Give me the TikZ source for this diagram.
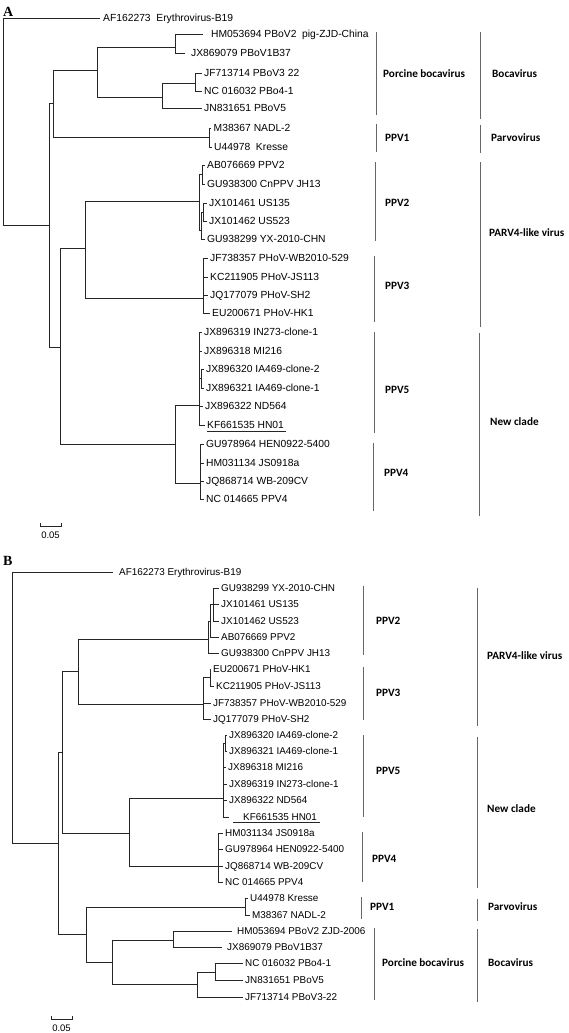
\documentclass[tikz,border=0pt]{standalone}
\usepackage{fontspec}
\setmainfont{Liberation Sans}
\newfontfamily\grpfont{Carlito}
\newfontfamily\panelfont{Liberation Serif}
\begin{document}
\begin{tikzpicture}[x=1pt,y=-1pt,
  br/.style={line width=0.7pt, black!85},
  brk/.style={line width=1pt, black!60},
  ul/.style={line width=0.7pt, black!85},
  leaf/.style={anchor=west, inner xsep=2.5pt, inner ysep=0pt, font=\fontsize{10.3}{11}\selectfont, text height=7.4pt, text depth=0pt},
  leafb/.style={leaf, font=\fontsize{9.9}{10}\selectfont, text height=7.1pt},
  grp/.style={anchor=west, inner sep=0pt, font=\grpfont\bfseries\fontsize{11.2}{12}\selectfont, text height=7.5pt, text depth=0pt},
  panel/.style={anchor=west, inner sep=0pt, font=\panelfont\bfseries\fontsize{14}{14}\selectfont, text height=9pt, text depth=0pt},
  sc/.style={inner sep=0pt, font=\fontsize{9.5}{10}\selectfont}]
\useasboundingbox[fill=white] (0,0) rectangle (568,1033);

% ================= Tree A =================
\node[panel] (pA) at (3,12) {A};
\coordinate (rootA) at (3,121);
\coordinate (a1) at (49,225);
\coordinate (a2) at (53,103);
\coordinate (a3) at (97,70);
\coordinate (a4) at (175,47);
\coordinate (a5) at (162,97);
\coordinate (a6) at (195,83);
\coordinate (a9) at (209,137);
\coordinate (a10) at (60,347);
\coordinate (a11) at (85,248);
\coordinate (a12) at (199,201);
\coordinate (a13) at (202,174.5);
\coordinate (a14) at (201,230);
\coordinate (a14b) at (203,212);
\coordinate (a15) at (203,298);
\coordinate (a16) at (175,444);
\coordinate (a17) at (199,405);
\coordinate (a17b) at (201,378);
\coordinate (a18) at (200,483);

\node[leaf, inner xsep=3pt] (oA) at (100,18) {AF162273\ \ Erythrovirus-B19};
\node[leaf, inner xsep=8pt] (la1) at (203,34) {HM053694 PBoV2\ \ pig-ZJD-China};
\node[leaf, inner xsep=6pt] (la2) at (185,53) {JX869079 PBoV1B37};
\node[leaf] (la3) at (201.5,73) {JF713714 PBoV3 22};
\node[leaf] (la4) at (201.5,91) {NC 016032 PBo4-1};
\node[leaf] (la5) at (201.5,108) {JN831651 PBoV5};
\node[leaf] (la6) at (211,128) {M38367 NADL-2};
\node[leaf] (la7) at (211.5,147) {U44978\ \ Kresse};
\node[leaf] (la8) at (204.5,165) {AB076669 PPV2};
\node[leaf] (la9) at (204.5,184) {GU938300 CnPPV JH13};
\node[leaf] (la10) at (206.5,203) {JX101461 US135};
\node[leaf] (la11) at (206.5,221) {JX101462 US523};
\node[leaf] (la12) at (204.5,239) {GU938299 YX-2010-CHN};
\node[leaf] (la13) at (207.5,258) {JF738357 PHoV-WB2010-529};
\node[leaf] (la14) at (207.5,277) {KC211905 PHoV-JS113};
\node[leaf] (la15) at (207.5,295) {JQ177079 PHoV-SH2};
\node[leaf] (la16) at (209.5,313) {EU200671 PHoV-HK1};
\node[leaf] (la17) at (201.5,332) {JX896319 IN273-clone-1};
\node[leaf] (la18) at (201.5,351) {JX896318 MI216};
\node[leaf] (la19) at (203.5,369) {JX896320 IA469-clone-2};
\node[leaf] (la20) at (203.5,388) {JX896321 IA469-clone-1};
\node[leaf] (la21) at (202.5,406) {JX896322 ND564};
\node[leaf] (la22) at (204.5,425) {KF661535 HN01};
\node[leaf] (la23) at (203.5,444) {GU978964 HEN0922-5400};
\node[leaf] (la24) at (203.5,463) {HM031134 JS0918a};
\node[leaf] (la25) at (203.5,481) {JQ868714 WB-209CV};
\node[leaf] (la26) at (203.5,499) {NC 014665 PPV4};

\draw[br] (rootA) |- (oA.west);
\draw[br] (rootA) |- (a1);
\draw[br] (a1) |- (a2);
\draw[br] (a1) |- (a10);
\draw[br] (a2) |- (a3);
\draw[br] (a2) |- (a9);
\draw[br] (a3) |- (a4);
\draw[br] (a3) |- (a5);
\draw[br] (a4) |- (la1.west);
\draw[br] (a4) |- (la2.west);
\draw[br] (a5) |- (a6);
\draw[br] (a5) |- (la5.west);
\draw[br] (a6) |- (la3.west);
\draw[br] (a6) |- (la4.west);
\draw[br] (a9) |- (la6.west);
\draw[br] (a9) |- (la7.west);
\draw[br] (a10) |- (a11);
\draw[br] (a10) |- (a16);
\draw[br] (a11) |- (a12);
\draw[br] (a11) |- (a15);
\draw[br] (a12) |- (a13);
\draw[br] (a12) |- (a14);
\draw[br] (a13) |- (la8.west);
\draw[br] (a13) |- (la9.west);
\draw[br] (a14) |- (a14b);
\draw[br] (a14) |- (la12.west);
\draw[br] (a14b) |- (la10.west);
\draw[br] (a14b) |- (la11.west);
\foreach \c in {la13,la14,la15,la16} \draw[br] (a15) |- (\c.west);
\draw[br] (a16) |- (a17);
\draw[br] (a16) |- (a18);
\foreach \c in {la17,la18,la21,la22} \draw[br] (a17) |- (\c.west);
\draw[br] (a17) |- (a17b);
\draw[br] (a17b) |- (la19.west);
\draw[br] (a17b) |- (la20.west);
\foreach \c in {la23,la24,la25,la26} \draw[br] (a18) |- (\c.west);
\draw[ul] (207,431) -- (286,431);

% brackets A
\draw[brk] (376,32) -- (376,115);
\draw[brk] (480,32) -- (480,119);
\draw[brk] (376,124) -- (376,152);
\draw[brk] (480,125) -- (480,153);
\draw[brk] (375,162) -- (375,241);
\draw[brk] (480,162) -- (480,327);
\draw[brk] (374,256) -- (374,322);
\draw[brk] (374,332) -- (374,433);
\draw[brk] (479,333) -- (479,516);
\draw[brk] (373,443) -- (373,511);
\node[grp] (gA1) at (383,74) {Porcine bocavirus};
\node[grp] (gA2) at (492,74) {Bocavirus};
\node[grp] (gA3) at (385,138) {PPV1};
\node[grp] (gA4) at (491,138) {Parvovirus};
\node[grp] (gA5) at (385,203) {PPV2};
\node[grp] (gA6) at (489,233) {PARV4-like virus};
\node[grp] (gA7) at (385,286) {PPV3};
\node[grp] (gA8) at (385,390) {PPV5};
\node[grp] (gA9) at (490,422) {New clade};
\node[grp] (gA10) at (384,473) {PPV4};

% scale A
\draw[br] (40,522.5) -- (40,526) -- (61,526) -- (61,522.5);
\node[sc] (sA) at (50.5,535) {0.05};

% ================= Tree B =================
\node[panel] (pB) at (3,561) {B};
\coordinate (rootB) at (12,708);
\coordinate (b1) at (58,843);
\coordinate (b2) at (62,752);
\coordinate (b3) at (78,671);
\coordinate (b4) at (208,639);
\coordinate (b4a) at (210,621);
\coordinate (b4b) at (213,604);
\coordinate (b6) at (203,704);
\coordinate (b6a) at (210,677);
\coordinate (b7) at (129,833);
\coordinate (b8) at (223,798);
\coordinate (b8a) at (225,743);
\coordinate (b8c) at (218,866);
\coordinate (b9) at (86,934);
\coordinate (b10) at (245,907);
\coordinate (b11) at (112,962);
\coordinate (b12) at (173,940);
\coordinate (b13) at (197,984);
\coordinate (b14) at (215,972);

\node[leafb, inner xsep=6pt] (ob) at (113,572) {AF162273 Erythrovirus-B19};
\node[leafb] (lb1) at (218.5,588) {GU938299 YX-2010-CHN};
\node[leafb] (lb2) at (218.5,604) {JX101461 US135};
\node[leafb] (lb3) at (218.5,621) {JX101462 US523};
\node[leafb] (lb4) at (218.5,637) {AB076669 PPV2};
\node[leafb] (lb5) at (218.5,653) {GU938300 CnPPV JH13};
\node[leafb] (lb6) at (210.5,669) {EU200671 PHoV-HK1};
\node[leafb] (lb7) at (213.5,686) {KC211905 PHoV-JS113};
\node[leafb] (lb8) at (210.5,703) {JF738357 PHoV-WB2010-529};
\node[leafb] (lb9) at (210.5,719) {JQ177079 PHoV-SH2};
\node[leafb] (lb10) at (226.5,735) {JX896320 IA469-clone-2};
\node[leafb] (lb11) at (226.5,751) {JX896321 IA469-clone-1};
\node[leafb] (lb12) at (225.5,767) {JX896318 MI216};
\node[leafb] (lb13) at (226.5,784) {JX896319 IN273-clone-1};
\node[leafb] (lb14) at (226.5,800) {JX896322 ND564};
\node[leafb, inner xsep=14pt] (lb15) at (229,817) {KF661535 HN01};
\node[leafb] (lb16) at (222.5,833) {HM031134 JS0918a};
\node[leafb] (lb17) at (222.5,849) {GU978964 HEN0922-5400};
\node[leafb] (lb18) at (222.5,866) {JQ868714 WB-209CV};
\node[leafb] (lb19) at (222.5,882) {NC 014665 PPV4};
\node[leafb] (lb20) at (247.5,898) {U44978 Kresse};
\node[leafb] (lb21) at (249.5,915) {M38367 NADL-2};
\node[leafb, inner xsep=5pt] (lb22) at (232,931) {HM053694 PBoV2 ZJD-2006};
\node[leafb, inner xsep=5pt] (lb23) at (222,947) {JX869079 PBoV1B37};
\node[leafb] (lb24) at (242.5,963) {NC 016032 PBo4-1};
\node[leafb] (lb25) at (242.5,980) {JN831651 PBoV5};
\node[leafb] (lb26) at (242.5,997) {JF713714 PBoV3-22};

\draw[br] (rootB) |- (ob.west);
\draw[br] (rootB) |- (b1);
\draw[br] (b1) |- (b2);
\draw[br] (b1) |- (b9);
\draw[br] (b2) |- (b3);
\draw[br] (b2) |- (b7);
\draw[br] (b3) |- (b4);
\draw[br] (b3) |- (b6);
\draw[br] (b4) |- (b4a);
\draw[br] (b4) |- (lb5.west);
\draw[br] (b4a) |- (b4b);
\draw[br] (b4a) |- (lb4.west);
\foreach \c in {lb1,lb2,lb3} \draw[br] (b4b) |- (\c.west);
\draw[br] (b6) |- (b6a);
\draw[br] (b6) |- (lb8.west);
\draw[br] (b6) |- (lb9.west);
\draw[br] (b6a) |- (lb6.west);
\draw[br] (b6a) |- (lb7.west);
\draw[br] (b7) |- (b8);
\draw[br] (b7) |- (b8c);
\draw[br] (b8) |- (b8a);
\foreach \c in {lb12,lb13,lb14,lb15} \draw[br] (b8) |- (\c.west);
\draw[br] (b8a) |- (lb10.west);
\draw[br] (b8a) |- (lb11.west);
\foreach \c in {lb16,lb17,lb18,lb19} \draw[br] (b8c) |- (\c.west);
\draw[br] (b9) |- (b10);
\draw[br] (b9) |- (b11);
\draw[br] (b10) |- (lb20.west);
\draw[br] (b10) |- (lb21.west);
\draw[br] (b11) |- (b12);
\draw[br] (b11) |- (b13);
\draw[br] (b12) |- (lb22.west);
\draw[br] (b12) |- (lb23.west);
\draw[br] (b13) |- (b14);
\draw[br] (b13) |- (lb26.west);
\draw[br] (b14) |- (lb24.west);
\draw[br] (b14) |- (lb25.west);
\draw[ul] (233,822) -- (320,822);

% brackets B
\draw[brk] (363,586) -- (363,655);
\draw[brk] (363,667) -- (363,720);
\draw[brk] (477,588) -- (477,726);
\draw[brk] (363,735) -- (363,817);
\draw[brk] (477,737) -- (477,888);
\draw[brk] (362,832) -- (362,882);
\draw[brk] (361,897) -- (361,919);
\draw[brk] (477,899) -- (477,921);
\draw[brk] (374,928) -- (374,1000);
\draw[brk] (477,929) -- (477,1002);
\node[grp] (gB1) at (376,621) {PPV2};
\node[grp] (gB2) at (376,693) {PPV3};
\node[grp] (gB3) at (487,656) {PARV4-like virus};
\node[grp] (gB4) at (376,771) {PPV5};
\node[grp] (gB5) at (487,809) {New clade};
\node[grp] (gB6) at (372,859) {PPV4};
\node[grp] (gB7) at (370,907) {PPV1};
\node[grp] (gB8) at (488,907) {Parvovirus};
\node[grp] (gB9) at (382,963) {Porcine bocavirus};
\node[grp] (gB10) at (488,963) {Bocavirus};

% scale B
\draw[br] (51,1015.5) -- (51,1019) -- (72,1019) -- (72,1015.5);
\node[sc] (sB) at (61.5,1028) {0.05};
\end{tikzpicture}
\end{document}
